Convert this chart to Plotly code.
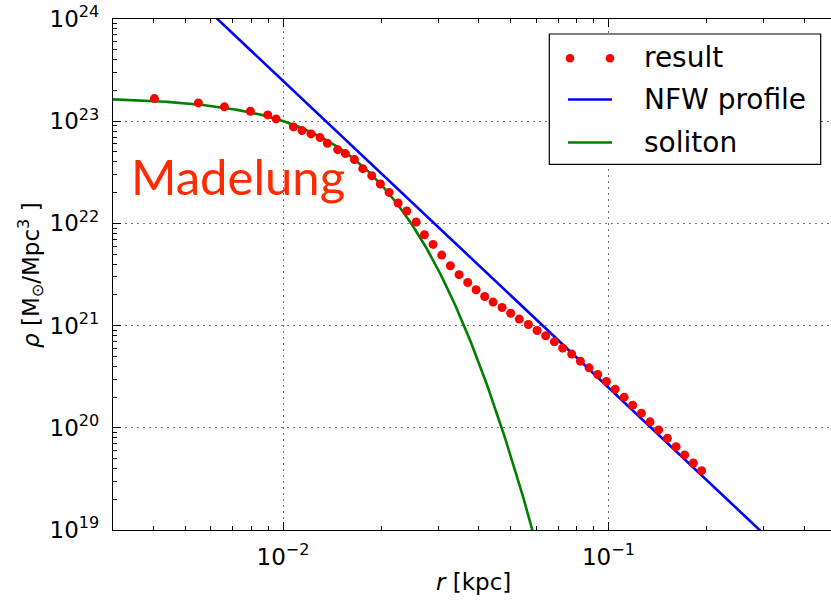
import numpy as np
import plotly.graph_objects as go

# Measured density profile (radius in kpc, density in M_sun / Mpc^3)
r_kpc = [0.004022, 0.00549, 0.0066, 0.00793, 0.00897, 0.00952, 0.01076, 0.01144,
         0.01219, 0.01299, 0.01368, 0.01472, 0.01554, 0.01657, 0.01757, 0.01873,
         0.01991, 0.02118, 0.02257, 0.02399, 0.02564, 0.02719, 0.02891, 0.03073,
         0.03268, 0.03475, 0.03694, 0.0392, 0.04166, 0.04422, 0.04712, 0.05008,
         0.05324, 0.05676, 0.06036, 0.06415, 0.06823, 0.07235, 0.07712, 0.082,
         0.08724, 0.09271, 0.0986, 0.1049, 0.1118, 0.1188, 0.1263, 0.1343,
         0.1427, 0.1518, 0.1615, 0.1716, 0.1825, 0.1935]
rho_result = [1.665e23, 1.511e23, 1.381e23, 1.250e23, 1.153e23, 1.053e23, 8.79e22, 8.09e22,
              7.51e22, 6.91e22, 6.08e22, 5.27e22, 4.82e22, 4.21e22, 3.43e22, 2.93e22,
              2.43e22, 2.01e22, 1.585e22, 1.322e22, 1.032e22, 7.75e21, 6.23e21, 4.90e21,
              3.85e21, 3.15e21, 2.64e21, 2.24e21, 1.928e21, 1.699e21, 1.504e21, 1.320e21,
              1.158e21, 1.025e21, 8.95e20, 7.94e20, 6.94e20, 6.02e20, 5.26e20, 4.49e20,
              3.86e20, 3.32e20, 2.835e20, 2.388e20, 1.993e20, 1.665e20, 1.390e20, 1.143e20,
              9.54e19, 7.91e19, 6.54e19, 5.43e19, 4.53e19, 3.81e19]

# Model parameters
rho_core = 1.72e23        # soliton central density
r_core = 0.01143          # soliton core radius [kpc]
rho_nfw_ref = 2.48e20     # NFW outer tail density at r = 0.1 kpc

x_tick_vals = [1e-2, 1e-1]
x_tick_text = ["10<sup>\u22122</sup>", "10<sup>\u22121</sup>"]
y_tick_vals = [1e19, 1e20, 1e21, 1e22, 1e23, 1e24]
y_tick_text = ["10<sup>19</sup>", "10<sup>20</sup>", "10<sup>21</sup>",
               "10<sup>22</sup>", "10<sup>23</sup>", "10<sup>24</sup>"]

r_model = np.logspace(np.log10(0.003), np.log10(0.5), 600)
rho_soliton = rho_core / (1.0 + 0.091 * (r_model / r_core) ** 2) ** 8
rho_nfw = rho_nfw_ref * (r_model / 0.1) ** -3.0

RED, BLUE, GREEN = "#ff0000", "#0000ff", "#008000"
LINE_W = 2.6

W, H = 831, 600
L, R, T, B = 113, 0, 19, 70
PW, PH = W - L - R, H - T - B
DECADE_PX = 325.3
x_lo = np.log10(0.003)
x_hi = x_lo + PW / DECADE_PX


def px(x):
    return (x - L) / PW


def py(y):
    return 1 - (y - T) / PH


fig = go.Figure()
fig.add_trace(go.Scatter(x=r_model, y=rho_nfw, mode="lines",
                         line=dict(color=BLUE, width=LINE_W), showlegend=False))
fig.add_trace(go.Scatter(x=r_model, y=rho_soliton, mode="lines",
                         line=dict(color=GREEN, width=LINE_W), showlegend=False))
fig.add_trace(go.Scatter(x=r_kpc, y=rho_result, mode="markers",
                         marker=dict(color=RED, size=9, line=dict(width=0)),
                         showlegend=False))

tick_font = dict(family="DejaVu Sans", size=23, color="black")
grid = dict(showgrid=True, gridcolor="rgba(0,0,0,0.55)", gridwidth=1, griddash="2px,4px")

x_minor = [k * 10.0 ** e for e in range(-3, 0) for k in range(2, 10)]
y_minor = [k * 10.0 ** e for e in range(19, 24) for k in range(2, 10)]

fig.update_xaxes(type="log", range=[x_lo, x_hi], tickmode="array",
                 tickvals=x_tick_vals, ticktext=x_tick_text, tickfont=tick_font,
                 ticks="inside", ticklen=8, tickwidth=1, tickcolor="black",
                 showline=True, linecolor="black", linewidth=1.2, mirror="allticks",
                 ticklabelstandoff=6, zeroline=False,
                 minor=dict(tickmode="array", tickvals=x_minor, ticks="inside",
                            ticklen=4, tickcolor="black", showgrid=False),
                 **grid)
fig.update_yaxes(type="log", range=[19, 24], tickmode="array",
                 tickvals=y_tick_vals, ticktext=y_tick_text, tickfont=tick_font,
                 ticks="inside", ticklen=8, tickwidth=1, tickcolor="black",
                 showline=True, linecolor="black", linewidth=1.2, mirror=False,
                 ticklabelstandoff=8, zeroline=False,
                 minor=dict(tickmode="array", tickvals=y_minor, ticks="inside",
                            ticklen=4, tickcolor="black", showgrid=False),
                 **grid)

annotations = [
    dict(text="Madelung", x=px(130), y=py(176), xanchor="left", yanchor="middle",
         font=dict(family="Lato", size=49, color="#ff2a00")),
    dict(text="<i>r</i> [kpc]", x=px(473), y=py(582), xanchor="center", yanchor="middle",
         font=dict(family="DejaVu Sans", size=23, color="black")),
    dict(text="<i>\u03c1</i> [M<sub>\u2299</sub>/Mpc<sup>3</sup> ]", x=px(30), y=py(275),
         xanchor="center", yanchor="middle", textangle=-90,
         font=dict(family="DejaVu Sans", size=23, color="black")),
]

# legend box with its entries
legend_font = dict(family="DejaVu Sans", size=28, color="black")
rows = [("result", 57), ("NFW profile", 100), ("soliton", 142)]
for label, yc in rows:
    annotations.append(dict(text=label, x=px(643), y=py(yc), xanchor="left",
                            yanchor="middle", font=legend_font))
for a in annotations:
    a.update(xref="paper", yref="paper", showarrow=False, borderpad=0)

shapes = [
    dict(type="rect", xref="paper", yref="paper", x0=px(549.3), x1=px(820.7),
         y0=py(164.3), y1=py(34), line=dict(color="black", width=1.2),
         fillcolor="white", layer="above"),
    dict(type="line", xref="paper", yref="paper", x0=px(568), x1=px(612),
         y0=py(99.5), y1=py(99.5), line=dict(color=BLUE, width=LINE_W), layer="above"),
    dict(type="line", xref="paper", yref="paper", x0=px(568), x1=px(612),
         y0=py(142.5), y1=py(142.5), line=dict(color=GREEN, width=LINE_W), layer="above"),
]
for cx in (570, 610):
    shapes.append(dict(type="circle", xref="paper", yref="paper",
                       xsizemode="pixel", ysizemode="pixel",
                       xanchor=px(cx), yanchor=py(58.3),
                       x0=-4.3, x1=4.3, y0=-4.3, y1=4.3,
                       fillcolor=RED, line=dict(width=0), layer="above"))

fig.update_layout(width=W, height=H, margin=dict(l=L, r=R, t=T, b=B),
                  paper_bgcolor="white", plot_bgcolor="white",
                  annotations=annotations, shapes=shapes, showlegend=False)

fig.write_html("out.html")
